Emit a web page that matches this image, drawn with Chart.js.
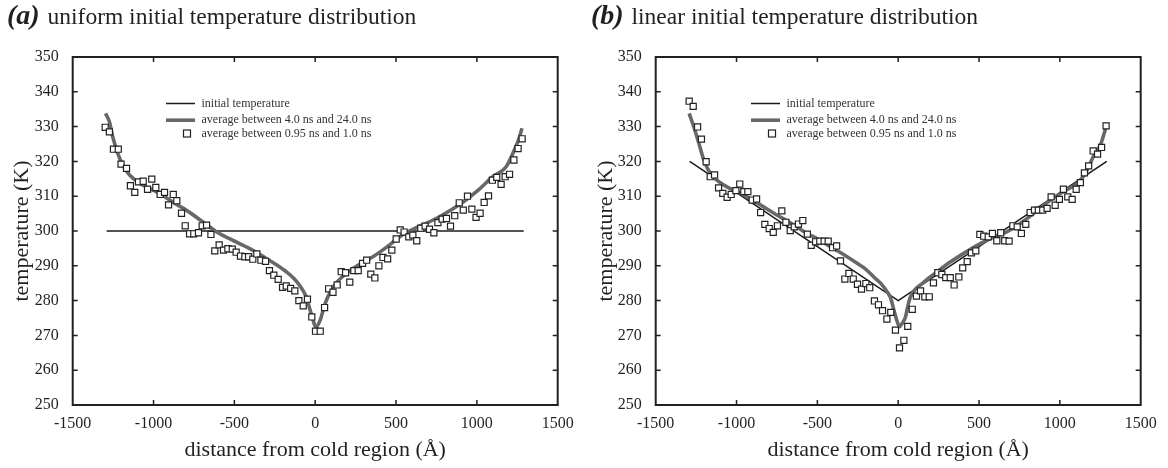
<!DOCTYPE html>
<html><head><meta charset="utf-8">
<script src="https://cdn.jsdelivr.net/npm/chart.js@4/dist/chart.umd.min.js"></script>
<style>
html,body{margin:0;padding:0;background:#fff;width:1168px;height:468px;overflow:hidden}
.panel{position:absolute;top:0;width:584px;height:468px}
.title{position:absolute;top:0;left:7px;font-family:"Liberation Serif",serif;font-size:23.5px;line-height:30px;color:#231f20;white-space:nowrap;z-index:2}
.title b{font-style:italic;font-weight:bold;font-size:28px;margin-right:2px}
canvas{position:absolute;left:0;top:0}
</style>
</head><body>
<div class="panel" style="left:0"><div class="title" id="ta"></div><canvas id="ca" width="584" height="468"></canvas></div>
<div class="panel" style="left:584px"><div class="title" id="tb"></div><canvas id="cb" width="584" height="468"></canvas></div>
<script>
// ---- text ----
const panelTags = ['(a)', '(b)'];
const panelTitles = ['uniform initial temperature distribution', 'linear initial temperature distribution'];
const legendLabels = ['initial temperature', 'average between 4.0 ns and 24.0 ns', 'average between 0.95 ns and 1.0 ns'];
const xTitle = 'distance from cold region (Å)';
const yTitle = 'temperature (K)';
const xTickValues = [-1500, -1000, -500, 0, 500, 1000, 1500];
const yTickValues = [250, 260, 270, 280, 290, 300, 310, 320, 330, 340, 350];

// ---- panel (a) data ----
const aInitX = [-1290, 1290];
const aInitY = [300, 300];
const aAvgX = [-1297,-1273,-1252,-1221,-1190,-1148,-1086,-963,-880,-798,-700,-612,-540,-468,-380,-303,-240,-179,-130,-97,-56,-25,5,31,58,99,140,192,270,357,440,521,600,686,768,850,932,1010,1098,1180,1231,1260,1279];
const aAvgY = [333.8,331.4,327.0,322.3,318.9,316.1,313.7,310.8,308.3,306.0,302.8,299.8,298.0,296.4,294.3,292.1,290.3,288.3,286.3,284.4,281.1,276.3,272.5,274.4,278.7,283.0,285.6,287.8,290.3,292.6,295.3,298.3,300.4,302.2,304.1,306.3,308.9,311.8,315.6,318.4,323.2,326.5,329.5];
const aSnapX = [-1299,-1273,-1248,-1218,-1201,-1167,-1143,-1116,-1093,-1064,-1037,-1011,-986,-959,-932,-907,-878,-856,-827,-804,-777,-751,-722,-699,-672,-645,-621,-594,-567,-540,-513,-489,-462,-435,-412,-386,-361,-336,-307,-283,-256,-229,-202,-179,-152,-126,-101,-74,-48,-21,2,31,58,83,110,136,161,188,214,239,266,293,318,344,369,394,419,448,474,501,526,550,579,604,628,653,680,707,734,759,785,812,837,863,891,916,942,969,995,1020,1045,1072,1096,1123,1150,1175,1202,1229,1255,1280];
const aSnapY = [329.8,328.5,323.5,323.5,319.2,318.0,313.0,311.1,314.1,314.3,312.0,314.9,312.5,310.5,311.1,307.5,310.5,308.7,305.1,301.5,299.2,299.2,299.5,301.5,301.7,299.0,294.3,296.0,294.5,294.9,294.8,293.9,292.8,292.6,292.6,291.9,293.4,291.6,291.3,288.6,287.3,286.1,283.8,284.2,283.5,282.8,280.0,278.5,280.4,275.3,271.2,271.2,278.0,283.4,282.4,284.5,288.3,288.0,285.3,288.6,288.6,290.7,291.6,287.6,286.5,290.0,292.4,292.0,294.5,297.7,300.3,299.7,298.3,298.8,297.2,300.8,301.4,300.5,299.5,302.4,303.4,303.6,301.4,304.4,308.1,306.0,310.0,306.3,303.9,305.1,308.2,310.1,314.6,315.4,313.4,315.6,316.3,320.4,323.7,326.5];

// ---- panel (b) data ----
const bInitX = [-1290, 0, 1290];
const bInitY = [320, 280, 320];
const bAvgX = [-1293,-1264,-1233,-1202,-1161,-1079,-975,-870,-769,-663,-563,-490,-419,-340,-254,-200,-151,-105,-68,-45,-27,-10,8,25,45,60,76,105,138,190,241,320,406,480,550,674,757,850,942,1020,1107,1150,1178,1211,1251,1286];
const bAvgY = [333.8,329.9,325.2,320.4,316.5,313.2,310.8,308.0,305.1,302.2,299.3,297.5,295.5,293.3,290.7,289.0,286.8,284.8,282.5,280.5,277.3,274.5,272.5,273.5,275.3,278.5,281.1,283.2,284.5,286.5,288.3,291.0,293.6,295.7,297.4,299.8,302.2,305.5,308.9,311.3,313.7,316.0,318.4,321.8,324.7,329.9];
const bSnapX = [-1293,-1268,-1241,-1217,-1188,-1163,-1136,-1111,-1085,-1058,-1033,-1004,-980,-955,-930,-903,-876,-851,-825,-798,-773,-747,-720,-695,-668,-643,-617,-590,-562,-538,-511,-485,-458,-433,-406,-381,-357,-330,-305,-278,-252,-227,-200,-176,-147,-122,-97,-70,-46,-17,8,35,59,87,113,138,165,192,218,245,270,294,322,346,375,399,427,453,480,505,529,557,583,610,634,659,686,709,736,762,789,816,843,867,894,921,946,971,997,1022,1049,1076,1101,1127,1152,1178,1206,1233,1258,1286];
const bSnapY = [337.3,335.8,329.9,326.4,319.9,315.6,316.1,312.4,310.8,309.7,310.5,311.6,313.5,311.3,311.3,308.9,309.2,305.3,301.9,300.7,299.6,301.5,305.8,302.5,300.1,301.2,302.0,303.0,299.1,295.9,296.9,297.1,297.1,297.1,295.2,295.7,291.4,286.2,287.8,286.2,284.7,283.3,284.9,283.7,279.9,278.8,277.1,274.7,276.6,271.5,266.4,268.6,272.6,277.5,281.3,282.8,281.1,281.1,285.1,288.0,287.5,286.6,286.6,284.5,286.8,289.4,291.2,293.7,294.3,299.0,298.5,298.3,299.3,297.2,299.5,297.2,297.1,301.5,301.2,299.3,301.9,305.3,306.0,306.0,306.0,306.5,309.8,307.4,309.1,312.0,309.8,309.1,312.0,313.9,316.7,318.7,323.0,322.1,324.0,330.2];

const zip = (xs, ys) => xs.map((x, i) => ({x, y: ys[i]}));
const INK = '#231f20';
const FONT = '"Liberation Serif", serif';

['ta', 'tb'].forEach((id, i) => {
  const el = document.getElementById(id);
  const b = document.createElement('b'); b.textContent = panelTags[i];
  el.appendChild(b);
  el.appendChild(document.createTextNode(' ' + panelTitles[i]));
});

const framePlugin = {
  id: 'frame',
  afterDatasetsDraw(chart, args, opts) {
    const {ctx, chartArea: a, scales: {x, y}} = chart;
    ctx.save();
    ctx.strokeStyle = INK;
    ctx.lineWidth = 1.5;
    ctx.beginPath();
    xTickValues.forEach(v => {
      if (v <= x.min || v >= x.max) return;
      const p = x.getPixelForValue(v);
      ctx.moveTo(p, a.bottom); ctx.lineTo(p, a.bottom - 5);
      ctx.moveTo(p, a.top); ctx.lineTo(p, a.top + 5);
    });
    yTickValues.forEach(v => {
      if (v <= y.min || v >= y.max) return;
      const p = y.getPixelForValue(v);
      ctx.moveTo(a.left, p); ctx.lineTo(a.left + 5, p);
      ctx.moveTo(a.right, p); ctx.lineTo(a.right - 5, p);
    });
    ctx.stroke();
    ctx.lineWidth = 2;
    ctx.strokeRect(a.left, a.top, a.right - a.left, a.bottom - a.top);

    // legend
    const ds = chart.data.datasets;
    const lx = a.left + opts.legendLeft;
    const rows = [46.5, 63.2, 76.5];
    const order = [2, 1, 0]; // init, avg, snapshot
    ctx.font = '12px ' + FONT;
    ctx.fillStyle = '#333';
    ctx.textBaseline = 'middle';
    order.forEach((di, r) => {
      const d = ds[di];
      const yy = a.top + rows[r];
      if (d.showLine) {
        ctx.strokeStyle = d.borderColor;
        ctx.lineWidth = d.borderWidth;
        ctx.beginPath(); ctx.moveTo(lx, yy); ctx.lineTo(lx + 29, yy); ctx.stroke();
      } else {
        ctx.strokeStyle = d.borderColor;
        ctx.lineWidth = d.borderWidth;
        ctx.fillStyle = '#fff';
        ctx.fillRect(lx + 17.5, yy - 3.5, 7, 7);
        ctx.strokeRect(lx + 17.5, yy - 3.5, 7, 7);
      }
      ctx.fillStyle = '#333';
      ctx.fillText(legendLabels[r], lx + 35.5, yy);
    });
    ctx.restore();
  }
};

function makeChart(id, initX, initY, avgX, avgY, snapX, snapY, yWidth, padRight, legendLeft) {
  return new Chart(document.getElementById(id), {
    type: 'scatter',
    data: {
      datasets: [
        {label: legendLabels[2], data: zip(snapX, snapY), showLine: false, pointStyle: 'rect',
         pointRadius: 4.3, pointBorderWidth: 1.2, pointBackgroundColor: '#fff', pointBorderColor: '#222',
         borderColor: '#222', borderWidth: 1.2, order: 0},
        {label: legendLabels[1], data: zip(avgX, avgY), showLine: true, pointRadius: 0,
         borderColor: '#686868', borderWidth: 3.6, cubicInterpolationMode: 'monotone', order: 1},
        {label: legendLabels[0], data: zip(initX, initY), showLine: true, pointRadius: 0,
         borderColor: '#1a1a1a', borderWidth: 1.5, order: 2}
      ]
    },
    options: {
      responsive: false,
      devicePixelRatio: 1,
      animation: false,
      events: [],
      layout: {padding: {left: 0, top: 57, right: padRight, bottom: 0}},
      plugins: {legend: {display: false}, tooltip: {enabled: false}, frame: {legendLeft}},
      scales: {
        x: {
          type: 'linear', min: -1500, max: 1500,
          afterBuildTicks: s => { s.ticks = xTickValues.map(v => ({value: v})); },
          afterFit: s => { s.height = 63; },
          grid: {display: false, drawTicks: false},
          border: {display: false},
          ticks: {font: {family: FONT, size: 16}, color: INK, padding: 9, maxRotation: 0, autoSkip: false,
                  callback: v => String(v)},
          title: {display: true, text: xTitle, font: {family: FONT, size: 22}, color: INK, padding: {top: 0, bottom: 5}}
        },
        y: {
          type: 'linear', min: 250, max: 350,
          afterBuildTicks: s => { s.ticks = yTickValues.map(v => ({value: v})); },
          afterFit: s => { s.width = yWidth; },
          grid: {display: false, drawTicks: false},
          border: {display: false},
          ticks: {font: {family: FONT, size: 16}, color: INK, padding: 14, autoSkip: false,
                  callback: v => String(v)},
          title: {display: true, text: yTitle, font: {family: FONT, size: 22}, color: INK, padding: {top: 9, bottom: 0}}
        }
      }
    },
    plugins: [framePlugin]
  });
}

makeChart('ca', aInitX, aInitY, aAvgX, aAvgY, aSnapX, aSnapY, 72.7, 26.3, 93.3);
makeChart('cb', bInitX, bInitY, bAvgX, bAvgY, bSnapX, bSnapY, 71.7, 27.3, 95.3);
</script>
</body></html>
